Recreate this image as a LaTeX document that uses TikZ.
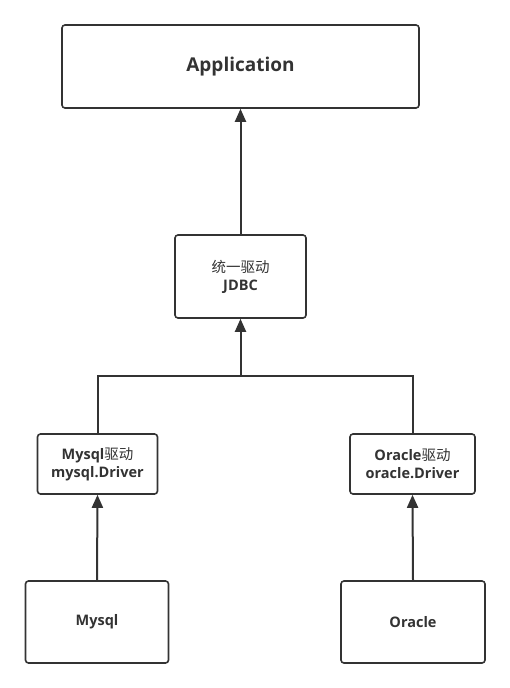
\documentclass[tikz,border=0pt]{standalone}
\usepackage{fontspec}
\setmainfont{Open Sans}
\newfontfamily\cjk{Noto Sans CJK SC}
\usetikzlibrary{arrows.meta}
\definecolor{ink}{HTML}{333333}
\begin{document}
\begin{tikzpicture}[x=1pt,y=-1pt,
  box/.style={draw=ink,line width=1.6pt,rounded corners=3pt,fill=white,inner sep=0pt,align=center,text=ink,font=\bfseries\fontsize{14.5}{18}\selectfont},
  conn/.style={draw=ink,line width=2pt},
  arr/.style={conn,-{Triangle[length=13pt,width=11pt]}}]
\useasboundingbox (0,0) rectangle (510,688);
\node[box,minimum width=357pt,minimum height=83pt,font=\bfseries\fontsize{19}{22}\selectfont] (app) at (240.5,66.5) {Application};
\node[box,minimum width=131pt,minimum height=83pt] (jdbc) at (240.5,276.5) {{\cjk\mdseries 统一驱动}\\JDBC};
\node[box,minimum width=120pt,minimum height=60pt] (mdrv) at (97.5,464) {Mysql{\cjk\mdseries 驱动}\\mysql.Driver};
\node[box,minimum width=125pt,minimum height=60pt] (odrv) at (412.5,464) {Oracle{\cjk\mdseries 驱动}\\oracle.Driver};
\node[box,minimum width=143pt,minimum height=82pt] (mysql) at (97,622) {Mysql};
\node[box,minimum width=144pt,minimum height=82pt] (oracle) at (413,622) {Oracle};
\coordinate (mid) at (240.5,376);
\draw[arr] (jdbc.north) -- (app.south);
\draw[conn] (mdrv.north) |- (mid) -| (odrv.north);
\draw[arr] (mid) -- (jdbc.south);
\draw[arr] (mysql.north) -- (mdrv.south);
\draw[arr] (oracle.north) -- (odrv.south);
\end{tikzpicture}
\end{document}
